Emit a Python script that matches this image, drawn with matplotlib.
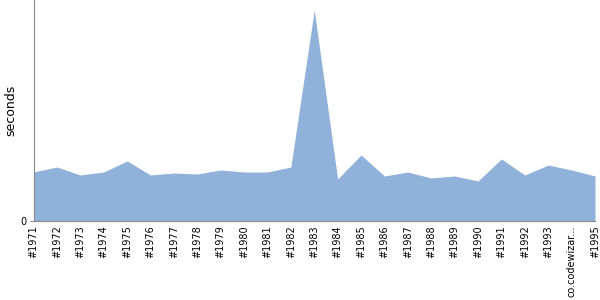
import matplotlib
matplotlib.use("Agg")
import matplotlib.pyplot as plt

categories = ["#1971", "#1972", "#1973", "#1974", "#1975", "#1976", "#1977", "#1978",
              "#1979", "#1980", "#1981", "#1982", "#1983", "#1984", "#1985", "#1986",
              "#1987", "#1988", "#1989", "#1990", "#1991", "#1992", "#1993",
              "co.codewizar...", "#1995"]
values = [49, 54, 46, 49, 60, 46, 48, 47, 51, 49, 49, 54, 211, 42, 66, 45,
          49, 43, 45, 40, 62, 46, 56, 51, 45]

fig = plt.figure(figsize=(6, 3), dpi=100)
ax = fig.add_axes([33.5/600, 79/300, (595-33.5)/600, 221/300])
x = list(range(len(categories)))
ax.fill_between(x, values, 0, color="#8fb1da", linewidth=0)
ax.set_xlim(0, len(categories) - 1)
ax.set_ylim(0, 221)
ax.set_xticks(x)
ax.set_xticklabels(categories, rotation=90, fontsize=7)
ax.set_yticks([0])
ax.set_yticklabels(["0"], fontsize=7)
ax.tick_params(axis="x", length=0, pad=3)
ax.tick_params(axis="y", length=3, pad=2, color="#888888")
ax.set_ylabel("seconds", fontsize=9)
ax.yaxis.set_label_coords(-0.029, 0.5)
for s in ["top", "right"]:
    ax.spines[s].set_visible(False)
for s in ["left", "bottom"]:
    ax.spines[s].set_color("#888888")
fig.savefig("out.png", dpi=100)
